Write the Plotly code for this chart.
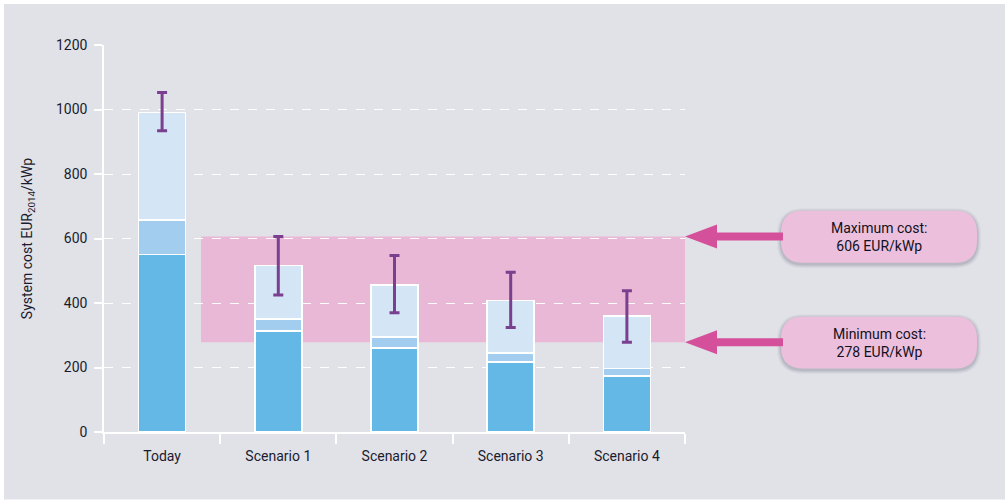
import plotly.graph_objects as go

categories = ["Today", "Scenario 1", "Scenario 2", "Scenario 3", "Scenario 4"]
seg_base = [550, 313, 261, 217, 174]
seg_mid = [108, 37, 34, 28, 23]
seg_top = [332, 167, 161, 163, 162]
err_high = [1053, 606, 547, 495, 438]
err_low = [934, 425, 370, 324, 278]
max_cost = 606
min_cost = 278
y_ticks = [0, 200, 400, 600, 800, 1000, 1200]

totals = [a + b + c for a, b, c in zip(seg_base, seg_mid, seg_top)]
e_plus = [h - t for h, t in zip(err_high, totals)]
e_minus = [t - l for l, t in zip(err_low, totals)]

W, H = 1007, 503
L, R, T, B = 104, 685, 45, 432.5


def px(x):
    return (x - L) / (R - L)


def py(y):
    return (B - y) / (B - T)


fig = go.Figure()
colors = ["#64b8e6", "#a3cdef", "#d4e5f6"]
for vals, col, name in zip([seg_base, seg_mid, seg_top], colors, ["a", "b", "c"]):
    fig.add_trace(go.Bar(x=categories, y=vals, marker=dict(color=col, line=dict(color="white", width=1.5)),
                         name=name, showlegend=False))

fig.add_trace(go.Scatter(x=categories, y=totals, mode="markers", marker=dict(opacity=0, size=1),
                         error_y=dict(type="data", symmetric=False, array=e_plus, arrayminus=e_minus,
                                      color="#7b3f8f", thickness=3, width=5),
                         showlegend=False, hoverinfo="skip"))

shapes = []
# grey panel with white frame
shapes.append(dict(type="rect", xref="paper", yref="paper", x0=px(4), x1=px(1005), y0=py(500), y1=py(4),
                   fillcolor="#e1e2e7", line=dict(width=0), layer="below"))
# pink band
shapes.append(dict(type="rect", xref="paper", yref="y", x0=px(201), x1=1, y0=min_cost, y1=max_cost,
                   fillcolor="#e9b8d7", line=dict(width=0), layer="below"))


def rr_path(x0, y0, x1, y1, r):
    def P(x, y):
        return f"{px(x):.5f},{py(y):.5f}"
    return (f"M {P(x0 + r, y0)} L {P(x1 - r, y0)} Q {P(x1, y0)} {P(x1, y0 + r)} "
            f"L {P(x1, y1 - r)} Q {P(x1, y1)} {P(x1 - r, y1)} L {P(x0 + r, y1)} "
            f"Q {P(x0, y1)} {P(x0, y1 - r)} L {P(x0, y0 + r)} Q {P(x0, y0)} {P(x0 + r, y0)} Z")


def y_pix(v):
    return B - v * (B - T) / 1200


boxes = [(max_cost, 211, 263, f"Maximum cost:<br>{max_cost} EUR/kWp"),
         (min_cost, 317, 369, f"Minimum cost:<br>{min_cost} EUR/kWp")]
annotations = []
for val, top, bot, txt in boxes:
    bx0, bx1 = 781, 977
    for d, op in [(4, 0.05), (3, 0.07), (2, 0.09), (1, 0.12)]:
        shapes.append(dict(type="path", xref="paper", yref="paper",
                           path=rr_path(bx0 - d, top - d + 1.5, bx1 + d, bot + d + 1.5, 22 + d),
                           fillcolor=f"rgba(90,90,110,{op})", line=dict(width=0)))
    shapes.append(dict(type="path", xref="paper", yref="paper", path=rr_path(bx0, top, bx1, bot, 22),
                       fillcolor="#ecc0dc", line=dict(width=0)))
    yc = y_pix(val)
    pts = [(685, yc), (717, yc - 12), (717, yc - 4), (783, yc - 4), (783, yc + 4), (717, yc + 4), (717, yc + 12)]
    path = "M " + " L ".join(f"{px(x):.5f},{py(y):.5f}" for x, y in pts) + " Z"
    shapes.append(dict(type="path", xref="paper", yref="paper", path=path, fillcolor="#d5509a",
                       line=dict(width=0)))
    annotations.append(dict(xref="paper", yref="paper", x=px((bx0 + bx1) / 2), y=py((top + bot) / 2),
                            text=txt, showarrow=False, xanchor="center", yanchor="middle",
                            font=dict(family="Roboto", size=14, color="#111122")))

fig.update_layout(
    width=W, height=H,
    margin=dict(l=L, r=W - R, t=T, b=H - B),
    paper_bgcolor="white", plot_bgcolor="rgba(0,0,0,0)",
    barmode="stack", bargap=0.595,
    font=dict(family="Roboto", size=13, color="#1b1b2f"),
    shapes=shapes, annotations=annotations,
    xaxis=dict(type="category", showgrid=False, showline=True, linecolor="white", linewidth=1.5,
               ticks="outside", tickson="boundaries", ticklen=10, tickcolor="white", tickwidth=1.5,
               ticklabelstandoff=10,
               tickfont=dict(size=14, color="#1b1b2f"), fixedrange=True),
    yaxis=dict(range=[0, 1200], tickvals=y_ticks, showgrid=True, gridcolor="rgba(255,255,255,0.95)",
               griddash="dash", gridwidth=1.3, showline=True, linecolor="white", linewidth=1.5,
               ticks="outside", ticklen=8, tickcolor="white", tickwidth=1.5, zeroline=False,
               ticklabelstandoff=4,
               tickfont=dict(size=14, color="#1b1b2f"),
               title=dict(text="System cost EUR<sub>2014</sub>/kWp", font=dict(size=14, color="#1b1b2f"),
                          standoff=20)),
)

fig.write_html("out.html")
